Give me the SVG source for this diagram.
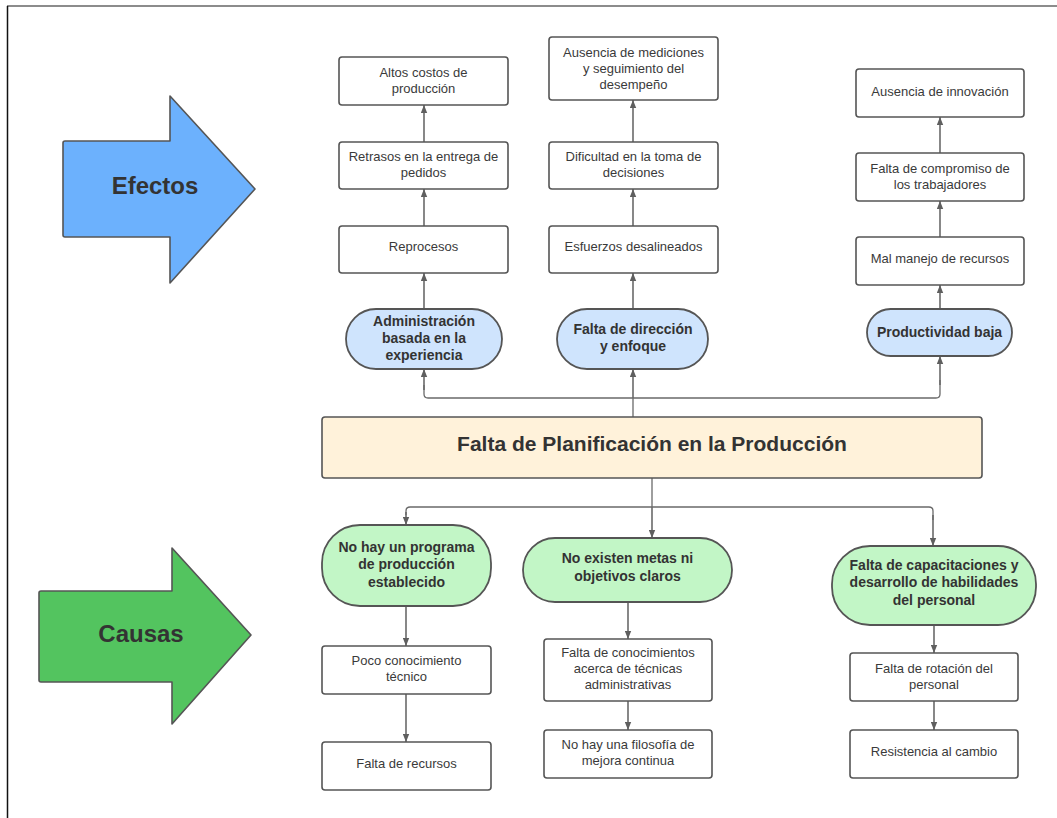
<svg xmlns="http://www.w3.org/2000/svg" width="1057" height="818" viewBox="0 0 1057 818">
  <style>
    .box { fill: #ffffff; stroke: #555555; stroke-width: 1.6; }
    .effect { fill: #cfe4fd; stroke: #555555; stroke-width: 1.8; }
    .cause { fill: #c2f6c6; stroke: #555555; stroke-width: 1.8; }
    .core { fill: #fff2da; stroke: #555555; stroke-width: 1.6; }
    .txt { font-family: "Liberation Sans", Arial, sans-serif; font-size: 13px; fill: #3a3a3a; text-anchor: middle; }
    .bold { font-family: "Liberation Sans", Arial, sans-serif; font-size: 14px; font-weight: bold; fill: #333333; text-anchor: middle; }
    .title { font-family: "Liberation Sans", Arial, sans-serif; font-size: 21px; font-weight: bold; fill: #333333; text-anchor: middle; }
    .big { font-family: "Liberation Sans", Arial, sans-serif; font-size: 24px; font-weight: bold; fill: #333333; text-anchor: middle; }
    .link { fill: none; stroke: #6a6a6a; stroke-width: 1.6; marker-end: url(#head); }
    .trunk { fill: none; stroke: #6a6a6a; stroke-width: 1.3; }
  </style>
  <defs>
    <marker id="head" viewBox="0 0 10 8" refX="10" refY="4" markerWidth="8" markerHeight="7" markerUnits="userSpaceOnUse" orient="auto">
      <path d="M0,0 L10,4 L0,8 z" fill="#5f5f5f"/>
    </marker>
  </defs>

  <!-- page frame -->
  <rect x="0" y="0" width="1057" height="818" fill="#ffffff"/>
  <line x1="7" y1="6" x2="1057" y2="6" stroke="#666666" stroke-width="1.6"/>
  <line x1="7.5" y1="6" x2="7.5" y2="818" stroke="#111111" stroke-width="1.5"/>

  <!-- side arrows -->
  <g id="arrow-efectos">
    <path d="M65,141 H170 V96 L255,189 L170,283 V237 H65 Q63,237 63,235 V143 Q63,141 65,141 Z" fill="#6cb1fd" stroke="#555555" stroke-width="1.6" stroke-linejoin="round"/>
    <text class="big" x="155" y="194">Efectos</text>
  </g>
  <g id="arrow-causas">
    <path d="M41,591 H172 V548 L251,635 L172,724 V682 H41 Q39,682 39,680 V593 Q39,591 41,591 Z" fill="#53c45f" stroke="#555555" stroke-width="1.6" stroke-linejoin="round"/>
    <text class="big" x="141" y="642">Causas</text>
  </g>

  <!-- connectors -->
  <g id="connectors">
    <!-- central problem up to the three effects -->
    <path class="trunk" d="M633,417 V398 H428 Q424,398 424,394 V385"/>
    <path class="link" d="M424,390 V369"/>
    <path class="trunk" d="M633,398 H936 Q940,398 940,394 V380"/>
    <path class="link" d="M940,385 V356"/>
    <path class="link" d="M633,398 V369"/>
    <!-- effect chains -->
    <path class="link" d="M424,309 V273"/>
    <path class="link" d="M424,226 V189"/>
    <path class="link" d="M424,142 V105"/>
    <path class="link" d="M633,309 V273"/>
    <path class="link" d="M633,226 V189"/>
    <path class="link" d="M633,142 V100"/>
    <path class="link" d="M940,309 V285"/>
    <path class="link" d="M940,237 V201"/>
    <path class="link" d="M940,153 V117"/>
    <!-- central problem down to the three causes -->
    <path class="trunk" d="M652,478 V507"/>
    <path class="trunk" d="M652,507 H410 Q406,507 406,511 V515"/>
    <path class="link" d="M406,512 V525"/>
    <path class="trunk" d="M652,507 H929 Q933,507 933,511 V520"/>
    <path class="link" d="M933,515 V546"/>
    <path class="link" d="M652,507 V538"/>
    <!-- cause chains -->
    <path class="link" d="M406,606 V646"/>
    <path class="link" d="M406,694 V742"/>
    <path class="link" d="M628,602 V639"/>
    <path class="link" d="M628,701 V730"/>
    <path class="link" d="M934,625 V653"/>
    <path class="link" d="M934,701 V730"/>
  </g>

  <!-- effects, column 1 -->
  <g id="altos-costos">
    <rect class="box" x="339" y="57" width="169" height="48" rx="3"/>
    <text class="txt" x="423.5" y="77">Altos costos de</text>
    <text class="txt" x="423.5" y="93">producción</text>
  </g>
  <g id="retrasos">
    <rect class="box" x="339" y="142" width="169" height="47" rx="3"/>
    <text class="txt" x="423.5" y="161">Retrasos en la entrega de</text>
    <text class="txt" x="423.5" y="177">pedidos</text>
  </g>
  <g id="reprocesos">
    <rect class="box" x="339" y="226" width="169" height="47" rx="3"/>
    <text class="txt" x="423.5" y="251">Reprocesos</text>
  </g>
  <g id="administracion">
    <rect class="effect" x="346" y="309" width="156" height="60" rx="30"/>
    <text class="bold" x="424" y="326">Administración</text>
    <text class="bold" x="424" y="343">basada en la</text>
    <text class="bold" x="424" y="360">experiencia</text>
  </g>

  <!-- effects, column 2 -->
  <g id="ausencia-mediciones">
    <rect class="box" x="549" y="37" width="169" height="63" rx="3"/>
    <text class="txt" x="633.5" y="57">Ausencia de mediciones</text>
    <text class="txt" x="633.5" y="73">y seguimiento del</text>
    <text class="txt" x="633.5" y="89">desempeño</text>
  </g>
  <g id="dificultad">
    <rect class="box" x="549" y="142" width="169" height="47" rx="3"/>
    <text class="txt" x="633.5" y="161">Dificultad en la toma de</text>
    <text class="txt" x="633.5" y="177">decisiones</text>
  </g>
  <g id="esfuerzos">
    <rect class="box" x="549" y="226" width="169" height="47" rx="3"/>
    <text class="txt" x="633.5" y="251">Esfuerzos desalineados</text>
  </g>
  <g id="direccion">
    <rect class="effect" x="557" y="309" width="151" height="60" rx="30"/>
    <text class="bold" x="633" y="334">Falta de dirección</text>
    <text class="bold" x="633" y="351">y enfoque</text>
  </g>

  <!-- effects, column 3 -->
  <g id="innovacion">
    <rect class="box" x="856" y="69" width="168" height="48" rx="3"/>
    <text class="txt" x="940" y="96">Ausencia de innovación</text>
  </g>
  <g id="compromiso">
    <rect class="box" x="856" y="153" width="168" height="48" rx="3"/>
    <text class="txt" x="940" y="173">Falta de compromiso de</text>
    <text class="txt" x="940" y="189">los trabajadores</text>
  </g>
  <g id="recursos-manejo">
    <rect class="box" x="856" y="237" width="168" height="48" rx="3"/>
    <text class="txt" x="940" y="263">Mal manejo de recursos</text>
  </g>
  <g id="productividad">
    <rect class="effect" x="867" y="309" width="145" height="47" rx="23.5"/>
    <text class="bold" x="939.5" y="337">Productividad baja</text>
  </g>

  <!-- central problem -->
  <g id="problema">
    <rect class="core" x="322" y="417" width="660" height="61" rx="3"/>
    <text class="title" x="652" y="451">Falta de Planificación en la Producción</text>
  </g>

  <!-- causes, column 1 -->
  <g id="programa">
    <rect class="cause" x="322" y="525" width="169" height="81" rx="38"/>
    <text class="bold" x="406.5" y="552">No hay un programa</text>
    <text class="bold" x="406.5" y="569">de producción</text>
    <text class="bold" x="406.5" y="587">establecido</text>
  </g>
  <g id="conocimiento">
    <rect class="box" x="322" y="646" width="169" height="48" rx="3"/>
    <text class="txt" x="406.5" y="665">Poco conocimiento</text>
    <text class="txt" x="406.5" y="681">técnico</text>
  </g>
  <g id="falta-recursos">
    <rect class="box" x="322" y="742" width="169" height="48" rx="3"/>
    <text class="txt" x="406.5" y="768">Falta de recursos</text>
  </g>

  <!-- causes, column 2 -->
  <g id="metas">
    <rect class="cause" x="523" y="538" width="209" height="64" rx="32"/>
    <text class="bold" x="627.5" y="563">No existen metas ni</text>
    <text class="bold" x="627.5" y="581">objetivos claros</text>
  </g>
  <g id="tecnicas">
    <rect class="box" x="544" y="639" width="168" height="62" rx="3"/>
    <text class="txt" x="628" y="657">Falta de conocimientos</text>
    <text class="txt" x="628" y="673">acerca de técnicas</text>
    <text class="txt" x="628" y="689">administrativas</text>
  </g>
  <g id="filosofia">
    <rect class="box" x="544" y="730" width="168" height="48" rx="3"/>
    <text class="txt" x="628" y="749">No hay una filosofía de</text>
    <text class="txt" x="628" y="765">mejora continua</text>
  </g>

  <!-- causes, column 3 -->
  <g id="capacitaciones">
    <rect class="cause" x="832" y="546" width="204" height="79" rx="38"/>
    <text class="bold" x="934" y="570">Falta de capacitaciones y</text>
    <text class="bold" x="934" y="587">desarrollo de habilidades</text>
    <text class="bold" x="934" y="605">del personal</text>
  </g>
  <g id="rotacion">
    <rect class="box" x="850" y="653" width="168" height="48" rx="3"/>
    <text class="txt" x="934" y="673">Falta de rotación del</text>
    <text class="txt" x="934" y="689">personal</text>
  </g>
  <g id="resistencia">
    <rect class="box" x="850" y="730" width="168" height="48" rx="3"/>
    <text class="txt" x="934" y="756">Resistencia al cambio</text>
  </g>
</svg>
